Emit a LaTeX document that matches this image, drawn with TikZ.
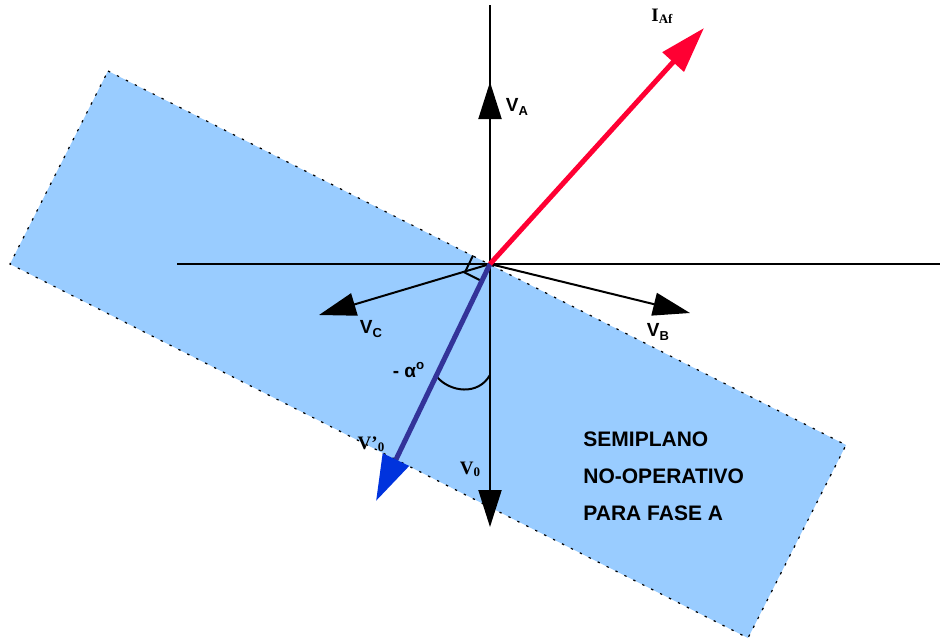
\documentclass[tikz,border=0pt]{standalone}
\usepackage{fontspec}
\setmainfont{Liberation Sans}
\newfontfamily\timesb{Liberation Serif}
\usetikzlibrary{arrows.meta,calc}
\definecolor{planefill}{HTML}{99CCFF}
\definecolor{iaf}{HTML}{FF0033}
\definecolor{vprime}{HTML}{333399}
\definecolor{vprimetip}{HTML}{0033DD}
\newcommand{\phsub}[2][2pt]{\raisebox{-#1}{\fontsize{6.5}{7}\selectfont #2}}
\tikzset{
  axis/.style={draw=black,line width=1pt},
  phasor/.style={line width=1pt,-{Triangle[length=18.5pt,width=11.5pt]}},
  bigphasor/.style={line width=2.5pt,-{Triangle[length=23pt,width=14pt]}},
  halfplane/.style={fill=planefill,draw=black,line width=0.6pt,
    dash pattern=on 1.2pt off 3.8pt},
  vlabel/.style={font=\bfseries\fontsize{9.5}{11}\selectfont,inner sep=0pt},
  tlabel/.style={font=\timesb\bfseries\fontsize{9.5}{11}\selectfont,inner sep=0pt},
  note/.style={font=\bfseries\fontsize{10.5}{18.5}\selectfont,align=left,inner sep=0pt},
}
\begin{document}
\begin{tikzpicture}[x=0.5pt,y=-0.5pt]
  \useasboundingbox (0,0) rectangle (940,638);
  % half-plane corners
  \coordinate (TL) at (108,71);
  \coordinate (R)  at (846,445);
  \coordinate (B)  at (748,638);
  \coordinate (L)  at (10,264);
  \draw[halfplane] (TL) -- (R) -- (B) -- (L) -- cycle;

  % origin, axes ends and phasor tips
  \coordinate (O)    at (490,264);
  \coordinate (ytop) at (490,5);
  \coordinate (xl)   at (177,264);
  \coordinate (xr)   at (940,264);
  \coordinate (tA)   at (490,82);
  \coordinate (t0)   at (490,527);
  \coordinate (tB)   at (690,313);
  \coordinate (tC)   at (319,315);
  \coordinate (tP)   at (376,501);
  \coordinate (tI)   at (704,28);

  \draw[axis] (ytop) -- (O);
  \draw[axis] (xl) -- (xr);
  \draw[phasor] (O) -- (tA);
  \draw[phasor] (O) -- (t0);
  \draw[phasor] (O) -- (tB);
  \draw[phasor] (O) -- (tC);

  % right angle between V'0 and the boundary
  \coordinate (ra1) at ($(O)!9.5pt!(TL)$);
  \coordinate (ra2) at ($(O)!9.5pt!(tP)$);
  \draw[axis] (ra1) -- ($(ra1)+(ra2)-(O)$) -- (ra2);

  % angle -alpha
  \coordinate (aa) at (437,377);
  \coordinate (ab) at (490,375);
  \draw[line width=1pt] (aa) .. controls (450,392) and (478,396) .. (ab);

  \draw[bigphasor,draw=vprime,-{Triangle[length=23pt,width=14pt,color=vprimetip]}] (O) -- (tP);
  \draw[bigphasor,draw=iaf,-{Triangle[length=23pt,width=14pt,color=iaf]}] (O) -- (tI);

  \node[vlabel] (lA) at (517,107) {V\phsub{A}};
  \node[vlabel] (lB) at (658,332) {V\phsub{B}};
  \node[vlabel] (lC) at (371,329) {V\phsub{C}};
  \node[vlabel] (lalpha) at (409,370) {- α\textsuperscript{o}};
  \node[tlabel] (l0) at (470,469) {V\phsub[1pt]{0}};
  \node[tlabel] (lP) at (371,444) {V’\phsub[1pt]{0}};
  \node[tlabel] (lI) at (662,16) {I\phsub[1pt]{Af}};
  \node[note,anchor=north west] (semi) at (583,431)
    {SEMIPLANO\\NO-OPERATIVO\\PARA FASE A};
\end{tikzpicture}
\end{document}
